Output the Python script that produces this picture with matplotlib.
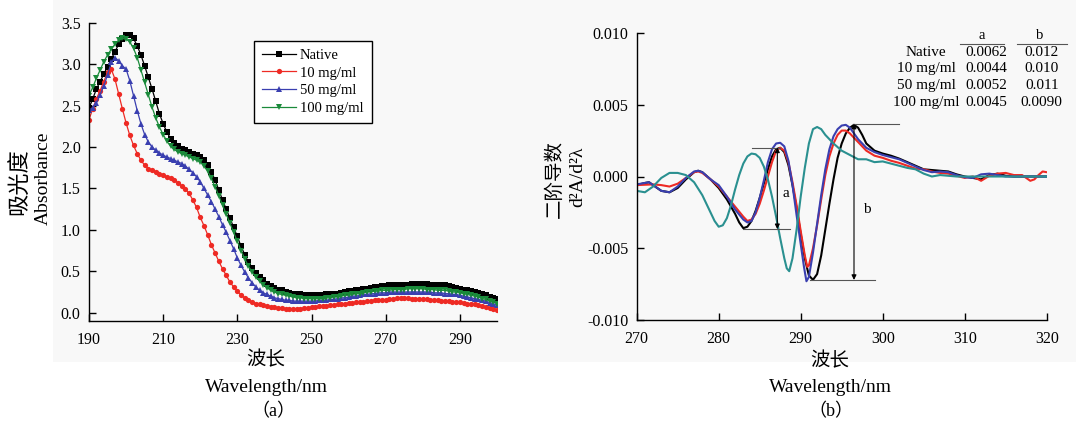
import numpy as np
import matplotlib
matplotlib.use("Agg")
import matplotlib.pyplot as plt
from matplotlib.patches import Rectangle

plt.rcParams['font.family'] = ['Liberation Serif', 'Noto Sans CJK SC']
plt.rcParams['axes.unicode_minus'] = False

# ---------------- Panel (a): UV absorbance ----------------
wl_a = list(range(190, 301))
series_a_labels = ["Native", "10 mg/ml", "50 mg/ml", "100 mg/ml"]

abs_native = [
    2.47, 2.58, 2.70, 2.79, 2.88, 2.97, 3.06, 3.15, 3.24, 3.30,   # 190-199
    3.35, 3.35, 3.31, 3.22, 3.11, 2.98, 2.84, 2.70, 2.55, 2.40,   # 200-209
    2.28, 2.18, 2.10, 2.05, 2.01, 1.98, 1.96, 1.94, 1.92, 1.90,   # 210-219
    1.88, 1.84, 1.78, 1.70, 1.60, 1.48, 1.36, 1.25, 1.14, 1.03,   # 220-229
    0.92, 0.80, 0.70, 0.61, 0.54, 0.48, 0.43, 0.39, 0.35, 0.32,   # 230-239
    0.30, 0.28, 0.27, 0.25, 0.24, 0.23, 0.22, 0.22, 0.21, 0.21,   # 240-249
    0.21, 0.21, 0.21, 0.21, 0.22, 0.22, 0.23, 0.23, 0.24, 0.25,   # 250-259
    0.26, 0.26, 0.27, 0.28, 0.29, 0.29, 0.30, 0.31, 0.31, 0.32,   # 260-269
    0.32, 0.33, 0.33, 0.34, 0.34, 0.34, 0.34, 0.35, 0.35, 0.35,   # 270-279
    0.35, 0.35, 0.34, 0.34, 0.34, 0.33, 0.33, 0.32, 0.31, 0.30,   # 280-289
    0.29, 0.28, 0.27, 0.26, 0.25, 0.24, 0.22, 0.21, 0.19, 0.18,   # 290-299
    0.16]                                                         # 300
abs_10 = [
    2.33, 2.46, 2.58, 2.68, 2.79, 2.90, 2.94, 2.82, 2.64, 2.46,
    2.29, 2.14, 2.02, 1.92, 1.84, 1.78, 1.74, 1.72, 1.70, 1.68,
    1.66, 1.64, 1.62, 1.60, 1.57, 1.53, 1.49, 1.44, 1.36, 1.27,
    1.15, 1.05, 0.94, 0.82, 0.72, 0.62, 0.53, 0.45, 0.37, 0.31,
    0.26, 0.21, 0.18, 0.15, 0.13, 0.11, 0.10, 0.09, 0.08, 0.07,
    0.065, 0.06, 0.055, 0.05, 0.05, 0.05, 0.05, 0.05, 0.055, 0.06,
    0.065, 0.07, 0.075, 0.08, 0.085, 0.09, 0.095, 0.10, 0.105, 0.11,
    0.115, 0.12, 0.125, 0.13, 0.135, 0.14, 0.145, 0.15, 0.15, 0.155,
    0.155, 0.16, 0.17, 0.175, 0.18, 0.18, 0.175, 0.17, 0.17, 0.165,
    0.16, 0.16, 0.155, 0.15, 0.15, 0.145, 0.14, 0.14, 0.135, 0.13,
    0.125, 0.12, 0.11, 0.105, 0.10, 0.09, 0.08, 0.07, 0.06, 0.045,
    0.03]
abs_50 = [
    2.45, 2.47, 2.53, 2.63, 2.74, 2.87, 3.02, 3.08, 3.04, 2.98,
    2.94, 2.80, 2.62, 2.44, 2.28, 2.15, 2.06, 2.00, 1.96, 1.93,
    1.90, 1.88, 1.86, 1.84, 1.82, 1.80, 1.77, 1.73, 1.69, 1.64,
    1.58, 1.50, 1.42, 1.34, 1.25, 1.16, 1.06, 0.97, 0.87, 0.77,
    0.66, 0.57, 0.49, 0.42, 0.36, 0.31, 0.27, 0.24, 0.22, 0.20,
    0.18, 0.17, 0.16, 0.15, 0.15, 0.14, 0.14, 0.14, 0.14, 0.14,
    0.14, 0.14, 0.15, 0.15, 0.15, 0.16, 0.16, 0.17, 0.18, 0.18,
    0.19, 0.20, 0.20, 0.21, 0.22, 0.22, 0.23, 0.23, 0.24, 0.24,
    0.24, 0.25, 0.25, 0.25, 0.25, 0.25, 0.25, 0.25, 0.25, 0.25,
    0.25, 0.25, 0.25, 0.24, 0.24, 0.24, 0.23, 0.23, 0.22, 0.22,
    0.21, 0.20, 0.19, 0.18, 0.17, 0.16, 0.15, 0.14, 0.12, 0.11,
    0.09]
abs_100 = [
    2.62, 2.72, 2.83, 2.93, 3.03, 3.11, 3.18, 3.24, 3.29, 3.31,
    3.30, 3.27, 3.19, 3.08, 2.93, 2.78, 2.63, 2.48, 2.35, 2.24,
    2.15, 2.07, 2.01, 1.97, 1.94, 1.92, 1.90, 1.88, 1.86, 1.84,
    1.82, 1.77, 1.71, 1.62, 1.52, 1.41, 1.30, 1.19, 1.08, 0.97,
    0.86, 0.75, 0.65, 0.56, 0.49, 0.43, 0.38, 0.34, 0.30, 0.27,
    0.25, 0.23, 0.22, 0.21, 0.20, 0.19, 0.18, 0.18, 0.17, 0.17,
    0.17, 0.17, 0.17, 0.17, 0.18, 0.18, 0.19, 0.19, 0.20, 0.21,
    0.21, 0.22, 0.23, 0.23, 0.24, 0.25, 0.25, 0.26, 0.26, 0.27,
    0.27, 0.27, 0.28, 0.28, 0.28, 0.28, 0.29, 0.29, 0.29, 0.29,
    0.29, 0.28, 0.28, 0.28, 0.27, 0.27, 0.27, 0.26, 0.25, 0.25,
    0.24, 0.23, 0.22, 0.21, 0.20, 0.19, 0.17, 0.16, 0.14, 0.13,
    0.11]

# ---------------- Panel (b): second derivative ----------------
wl_native = [270, 271, 271.5, 272, 273, 274, 275, 276, 277, 277.5, 278, 279, 280, 281, 282, 282.5,
             283, 283.5, 284, 284.5, 285, 285.5, 286, 286.5, 287, 287.5, 288, 288.5, 289, 289.5,
             290, 290.5, 291, 291.5, 292, 292.5, 293, 293.5, 294, 294.5, 295, 295.5, 296, 296.5,
             297, 297.5, 298, 299, 300, 301, 302, 303, 304, 305, 306, 307, 308, 309, 310, 311,
             312, 313, 314, 315, 316, 318, 320]
d2_native = [-0.6, -0.45, -0.4, -0.6, -1.0, -1.1, -0.8, -0.2, 0.3, 0.4, 0.3, -0.2, -0.8, -1.6, -2.6, -3.2,
             -3.6, -3.5, -3.1, -2.4, -1.5, -0.5, 0.5, 1.4, 1.9, 2.0, 1.7, 0.8, -0.6, -2.2,
             -4.0, -5.7, -6.9, -7.2, -6.8, -5.5, -3.7, -1.9, -0.2, 1.3, 2.3, 3.0, 3.4, 3.6,
             3.4, 2.9, 2.3, 1.8, 1.6, 1.45, 1.25, 1.0, 0.75, 0.5, 0.45, 0.4, 0.35, 0.15, 0.0, -0.1,
             -0.2, 0.1, 0.2, 0.05, 0.0, 0.0, 0.0]

wl_10 = [270, 272, 273, 274, 275, 276, 277, 277.5, 278, 279, 280, 281, 282, 283, 283.5, 284, 284.5,
         285, 285.5, 286, 286.5, 287, 287.5, 288, 288.5, 289, 289.5, 290, 290.5, 290.8, 291, 291.5,
         292, 292.5, 293, 293.5, 294, 294.5, 295, 295.5, 296, 297, 298, 299, 300, 301, 302, 303,
         304, 305, 306, 307, 308, 309, 310, 311, 312, 313, 314, 315, 316, 317, 317.5, 318, 318.5,
         319, 319.5, 320]
d2_10 = [-0.6, -0.55, -0.6, -0.7, -0.5, -0.1, 0.3, 0.35, 0.25, -0.2, -0.7, -1.4, -2.1, -2.8, -3.1, -3.0, -2.6,
         -1.9, -1.0, 0.0, 1.0, 1.8, 2.0, 1.8, 1.0, -0.4, -2.0, -3.8, -5.5, -6.3, -6.2, -5.0,
         -3.4, -1.6, 0.1, 1.4, 2.3, 2.9, 3.2, 3.2, 3.0, 2.4, 1.8, 1.45, 1.3, 1.1, 0.95, 0.75,
         0.55, 0.5, 0.35, 0.25, 0.2, 0.05, -0.1, 0.0, -0.3, 0.05, 0.2, 0.25, 0.1, 0.1, -0.1, -0.3, -0.2,
         0.1, 0.35, 0.3]

wl_50 = [270, 271, 271.5, 272, 273, 274, 275, 276, 277, 277.5, 278, 279, 280, 281, 282, 283, 283.5,
         284, 284.5, 285, 285.5, 286, 286.5, 287, 287.5, 288, 288.5, 289, 289.5, 290, 290.4, 290.7,
         291, 291.5, 292, 292.5, 293, 293.5, 294, 294.5, 295, 295.5, 296, 296.5, 297, 298, 299,
         300, 301, 302, 303, 304, 305, 306, 307, 308, 309, 310, 311, 312, 313, 314, 315, 316, 318, 320]
d2_50 = [-0.55, -0.45, -0.4, -0.6, -1.0, -1.1, -0.7, -0.1, 0.35, 0.4, 0.3, -0.2, -0.6, -1.4, -2.3, -3.0, -3.2,
         -3.1, -2.5, -1.5, -0.3, 1.0, 1.9, 2.3, 2.35, 2.1, 1.1, -0.6, -2.7, -4.7, -6.3, -7.3,
         -7.0, -5.3, -3.3, -1.3, 0.5, 1.9, 2.8, 3.3, 3.55, 3.6, 3.4, 3.0, 2.6, 2.0, 1.7,
         1.5, 1.35, 1.2, 0.95, 0.7, 0.45, 0.3, 0.35, 0.3, 0.1, -0.05, -0.1, 0.15, 0.2, 0.1, 0.0, 0.0, 0.0, 0.0]

wl_100 = [270, 271, 272, 273, 274, 275, 276, 277, 278, 279, 279.5, 280, 280.5, 281, 281.5, 282, 282.5,
          283, 283.5, 284, 284.5, 285, 285.5, 286, 286.5, 287, 287.5, 288, 288.3, 288.6, 289, 289.5,
          290, 290.5, 291, 291.5, 292, 292.5, 293, 294, 295, 296, 297, 298, 299, 300, 301, 302,
          303, 304, 305, 306, 307, 308, 309, 310, 315, 320]
d2_100 = [-1.0, -1.1, -0.7, -0.1, 0.25, 0.25, 0.1, -0.4, -1.3, -2.5, -3.1, -3.5, -3.4, -2.9, -2.0, -0.9, 0.1,
          0.9, 1.4, 1.6, 1.55, 1.3, 0.7, -0.2, -1.4, -2.8, -4.3, -5.7, -6.4, -6.6, -5.7, -3.7,
          -1.4, 0.6, 2.3, 3.3, 3.45, 3.3, 2.9, 2.3, 1.8, 1.5, 1.2, 1.2, 1.0, 1.05, 0.9, 0.75,
          0.6, 0.5, 0.2, 0.0, 0.1, 0.05, 0.0, 0.0, 0.0, 0.0]

table_rows = ["Native", "10 mg/ml", "50 mg/ml", "100 mg/ml"]
table_a = ["0.0062", "0.0044", "0.0052", "0.0045"]
table_b = ["0.012", "0.010", "0.011", "0.0090"]

# ---------------- Figure ----------------
W, H = 1076, 426
fig = plt.figure(figsize=(W / 100, H / 100), dpi=100)
fig.patches.append(Rectangle((53 / W, 1 - 362 / H), 1 - 53 / W, 362 / H,
                             transform=fig.transFigure, facecolor='#f8f8f8',
                             edgecolor='none', zorder=-10))

serif = ['Liberation Serif', 'Noto Sans CJK SC']
cjk = ['Noto Sans CJK SC', 'Liberation Serif']

def style_axes(ax):
    ax.set_facecolor('none')
    for s in ['top', 'right']:
        ax.spines[s].set_visible(False)
    for s in ['left', 'bottom']:
        ax.spines[s].set_linewidth(1.0)
    ax.tick_params(direction='in', length=5, width=1.0, labelsize=11.5)
    ax.tick_params(axis='x', pad=8)
    ax.tick_params(axis='y', pad=6)
    for lab in ax.get_xticklabels() + ax.get_yticklabels():
        lab.set_family(serif)

# Panel (a)
ax1 = fig.add_axes([89 / W, 1 - 321 / H, 408 / W, 298.3 / H])
colors_a = ['#000000', '#ee2a24', '#3a3fb0', '#1a8a3a']
markers_a = ['s', 'o', '^', 'v']
for vals, lab, c, m in zip([abs_native, abs_10, abs_50, abs_100], series_a_labels, colors_a, markers_a):
    ax1.plot(wl_a, vals, color=c, marker=m, markersize=3.8, linewidth=0.9,
             markeredgewidth=0, label=lab)
ax1.set_xlim(190, 300)
ax1.set_ylim(-0.1, 3.5)
ax1.set_xticks([190, 210, 230, 250, 270, 290])
ax1.set_yticks([0.0, 0.5, 1.0, 1.5, 2.0, 2.5, 3.0, 3.5])
ax1.set_yticklabels(["0.0", "0.5", "1.0", "1.5", "2.0", "2.5", "3.0", "3.5"])
style_axes(ax1)
leg = ax1.legend(loc='upper left', bbox_to_anchor=(165 / 408, (321 - 40.7) / 298.3),
                 borderaxespad=0, fancybox=False,
                 edgecolor='black', framealpha=1, numpoints=1, handlelength=2.3,
                 labelspacing=0.3, borderpad=0.55, handletextpad=0.3,
                 prop={'family': serif, 'size': 10.5})
leg.get_frame().set_linewidth(1.0)

# Panel (b)
ax2 = fig.add_axes([636.7 / W, 1 - 320 / H, 410 / W, 287 / H])
colors_b = ['#000000', '#ee2a24', '#3a3fb0', '#2a9090']
for xs, ys, c in zip([wl_native, wl_10, wl_50, wl_100], [d2_native, d2_10, d2_50, d2_100], colors_b):
    ax2.plot(xs, np.array(ys) * 1e-3, color=c, linewidth=1.5)
ax2.set_xlim(270, 320)
ax2.set_ylim(-0.010, 0.010)
ax2.set_xticks([270, 280, 290, 300, 310, 320])
ax2.set_yticks([-0.010, -0.005, 0.0, 0.005, 0.010])
ax2.set_yticklabels(["-0.010", "-0.005", "0.000", "0.005", "0.010"])
style_axes(ax2)

# annotation lines (a and b heights)
gray = '#555555'
ax2.plot([284.06, 287.48], [0.00202, 0.00202], color=gray, lw=0.8)
ax2.plot([282.93, 288.7], [-0.00367, -0.00367], color=gray, lw=0.8)
ax2.plot([296.4, 302.0], [0.00368, 0.00368], color=gray, lw=0.8)
ax2.plot([291.1, 299.07], [-0.00721, -0.00721], color=gray, lw=0.8)
arrow_kw = dict(arrowstyle='<|-|>', color='black', lw=0.8, mutation_scale=7, shrinkA=0, shrinkB=0)
ax2.annotate('', xy=(287.15, 0.00202), xytext=(287.15, -0.00367), arrowprops=arrow_kw)
ax2.annotate('', xy=(296.5, 0.00368), xytext=(296.5, -0.00721), arrowprops=arrow_kw)
ax2.text(287.8, -0.00116, 'a', fontsize=11, family=serif, ha='left', va='center')
ax2.text(297.56, -0.00227, 'b', fontsize=11, family=serif, ha='left', va='center')

# table in panel (b)
ax2.text(312.07, 0.00982, 'a', fontsize=10.5, family=serif, ha='center', va='center')
ax2.text(319.18, 0.00982, 'b', fontsize=10.5, family=serif, ha='center', va='center')
ax2.plot([309.43, 314.8], [0.00926, 0.00926], color=gray, lw=0.8, clip_on=False)
ax2.plot([316.34, 322.44], [0.00926, 0.00926], color=gray, lw=0.8, clip_on=False)
row_y = [0.00863, 0.00751, 0.00633, 0.00514]
for ry, r, va_, vb_ in zip(row_y, table_rows, table_a, table_b):
    ax2.text(305.28, ry, r, fontsize=11, family=serif, ha='center', va='center', clip_on=False)
    ax2.text(312.6, ry, va_, fontsize=11, family=serif, ha='center', va='center', clip_on=False)
    ax2.text(319.4, ry, vb_, fontsize=11, family=serif, ha='center', va='center', clip_on=False)

# axis labels as figure text
def ftext(x, y, s, fam, size, rot=0):
    fig.text(x / W, 1 - y / H, s, family=fam, fontsize=size, rotation=rot,
             ha='center', va='center')

ftext(19, 182, '吸光度', cjk, 16, 90)
ftext(43, 178, 'Absorbance', serif, 14, 90)
ftext(266, 360, '波长', cjk, 14)
ftext(266, 388, 'Wavelength/nm', serif, 14)
ftext(273, 412, '（a）', serif, 13)

ftext(554, 179, '二阶导数', cjk, 14, 90)
ftext(578, 177, 'd²A/d²λ', serif, 14, 90)
ftext(830, 361, '波长', cjk, 14)
ftext(830, 387, 'Wavelength/nm', serif, 14)
ftext(831, 412, '（b）', serif, 13)

fig.savefig('out.png', dpi=100)
